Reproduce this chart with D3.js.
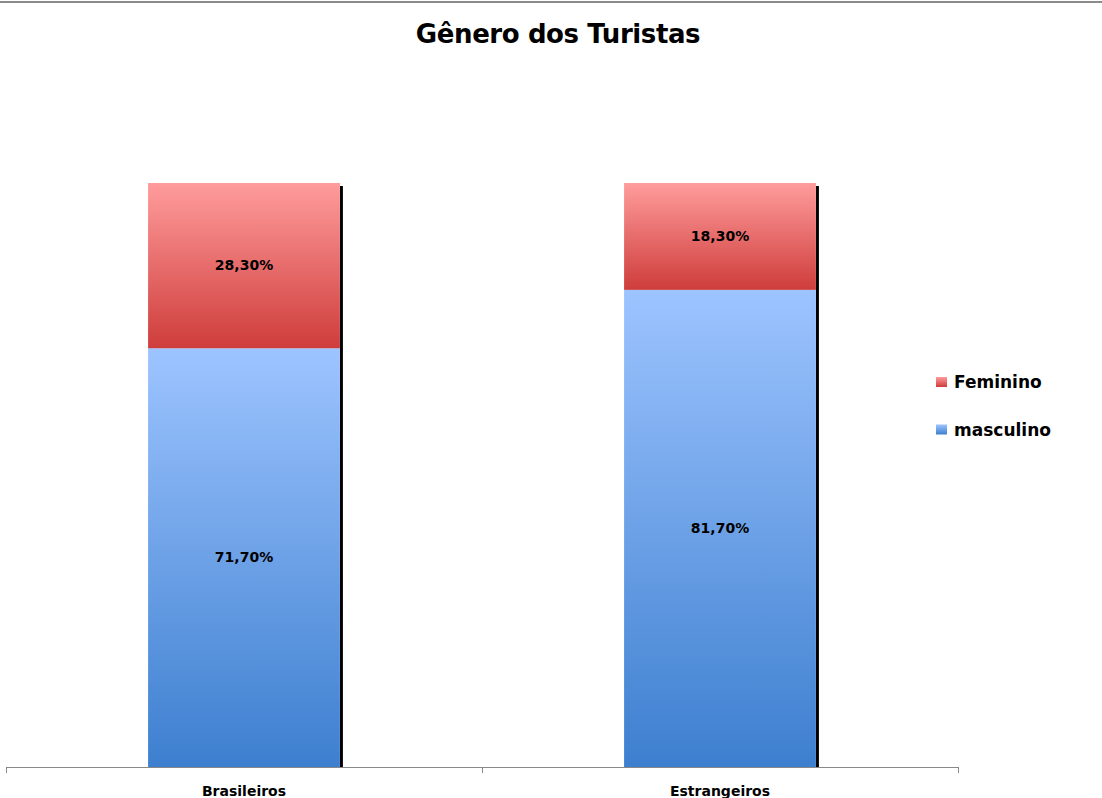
<!DOCTYPE html>
<html><head><meta charset="utf-8">
<script src="https://cdn.jsdelivr.net/npm/d3@7"></script>
<style>body{margin:0;background:#fff}svg{display:block}</style>
</head><body>
<svg id="c" width="1102" height="798"></svg>
<script>
const categories = ["Brasileiros", "Estrangeiros"];
const masculino = [71.7, 81.7];
const feminino = [28.3, 18.3];
const seriesNames = ["masculino", "Feminino"];
const labelFmt = v => v.toFixed(2).replace(".", ",") + "%";

const svg = d3.select("#c");
const W = 1102, H = 798;
const FONT = "'DejaVu Sans', Verdana, sans-serif";

// top border line
svg.append("rect").attr("x", 0).attr("y", 1).attr("width", W).attr("height", 2).attr("fill", "#8a8a8a");

const defs = svg.append("defs");
function grad(id, top, bottom) {
  const g = defs.append("linearGradient").attr("id", id).attr("x1", 0).attr("y1", 0).attr("x2", 0).attr("y2", 1);
  g.append("stop").attr("offset", "0%").attr("stop-color", top);
  g.append("stop").attr("offset", "100%").attr("stop-color", bottom);
}
grad("gRed", "#ff9c9c", "#ce3d3b");
grad("gBlue", "#9dc4ff", "#3d7fcf");
const fills = { masculino: "url(#gBlue)", Feminino: "url(#gRed)" };

const x = d3.scaleBand().domain(categories).range([6, 958]).paddingInner(0.597).paddingOuter(0.2985);
const y = d3.scaleLinear().domain([0, 100]).range([767, 183]);

const data = categories.map((c, i) => ({ cat: c, masculino: masculino[i], Feminino: feminino[i] }));
const stack = d3.stack().keys(seriesNames)(data);

// shadows
svg.append("g").selectAll("rect").data(data).join("rect")
  .attr("x", d => x(d.cat) + x.bandwidth())
  .attr("y", d => y(d.masculino + d.Feminino) + 3)
  .attr("width", 3)
  .attr("height", d => y(0) - y(d.masculino + d.Feminino) - 3)
  .attr("fill", "#000");

const layers = svg.append("g").selectAll("g").data(stack).join("g")
  .attr("fill", s => fills[s.key]);
layers.selectAll("rect").data(s => s).join("rect")
  .attr("x", d => x(d.data.cat))
  .attr("y", d => y(d[1]))
  .attr("width", x.bandwidth())
  .attr("height", d => y(d[0]) - y(d[1]));

layers.selectAll("text").data(s => s).join("text")
  .attr("x", d => x(d.data.cat) + x.bandwidth() / 2)
  .attr("y", d => (y(d[0]) + y(d[1])) / 2 + 4.5)
  .attr("text-anchor", "middle")
  .attr("fill", "#000")
  .attr("font-family", FONT)
  .attr("font-weight", "bold")
  .attr("font-size", 14)
  .text(d => labelFmt(d[1] - d[0]));

// axis
const axis = svg.append("g");
axis.append("line").attr("x1", 6).attr("x2", 958).attr("y1", 767.5).attr("y2", 767.5).attr("stroke", "#888").attr("stroke-width", 1);
const tickPos = [6].concat(categories.map(c => x(c) + x.bandwidth() / 2 + x.step() / 2));
axis.selectAll("line.t").data(tickPos).join("line").attr("class", "t")
  .attr("x1", d => d + 0.5).attr("x2", d => d + 0.5).attr("y1", 767).attr("y2", 773)
  .attr("stroke", "#888");
axis.selectAll("text").data(categories).join("text")
  .attr("x", d => x(d) + x.bandwidth() / 2)
  .attr("y", 796)
  .attr("text-anchor", "middle")
  .attr("font-family", FONT)
  .attr("font-weight", "bold")
  .attr("font-size", 14)
  .text(d => d);

// title
svg.append("text").attr("x", 558).attr("y", 43).attr("text-anchor", "middle")
  .attr("font-family", FONT).attr("font-weight", "bold").attr("font-size", 26)
  .attr("letter-spacing", -0.4)
  .text("Gênero dos Turistas");

// legend
const legendItems = ["Feminino", "masculino"];
const lg = svg.append("g").selectAll("g").data(legendItems).join("g")
  .attr("transform", (d, i) => `translate(936,${377 + i * 47.5})`);
lg.append("rect").attr("width", 11).attr("height", 10).attr("fill", d => fills[d]);
lg.append("text").attr("x", 18).attr("y", 11)
  .attr("font-family", FONT).attr("font-weight", "bold").attr("font-size", 17)
  .text(d => d);
</script>
</body></html>
